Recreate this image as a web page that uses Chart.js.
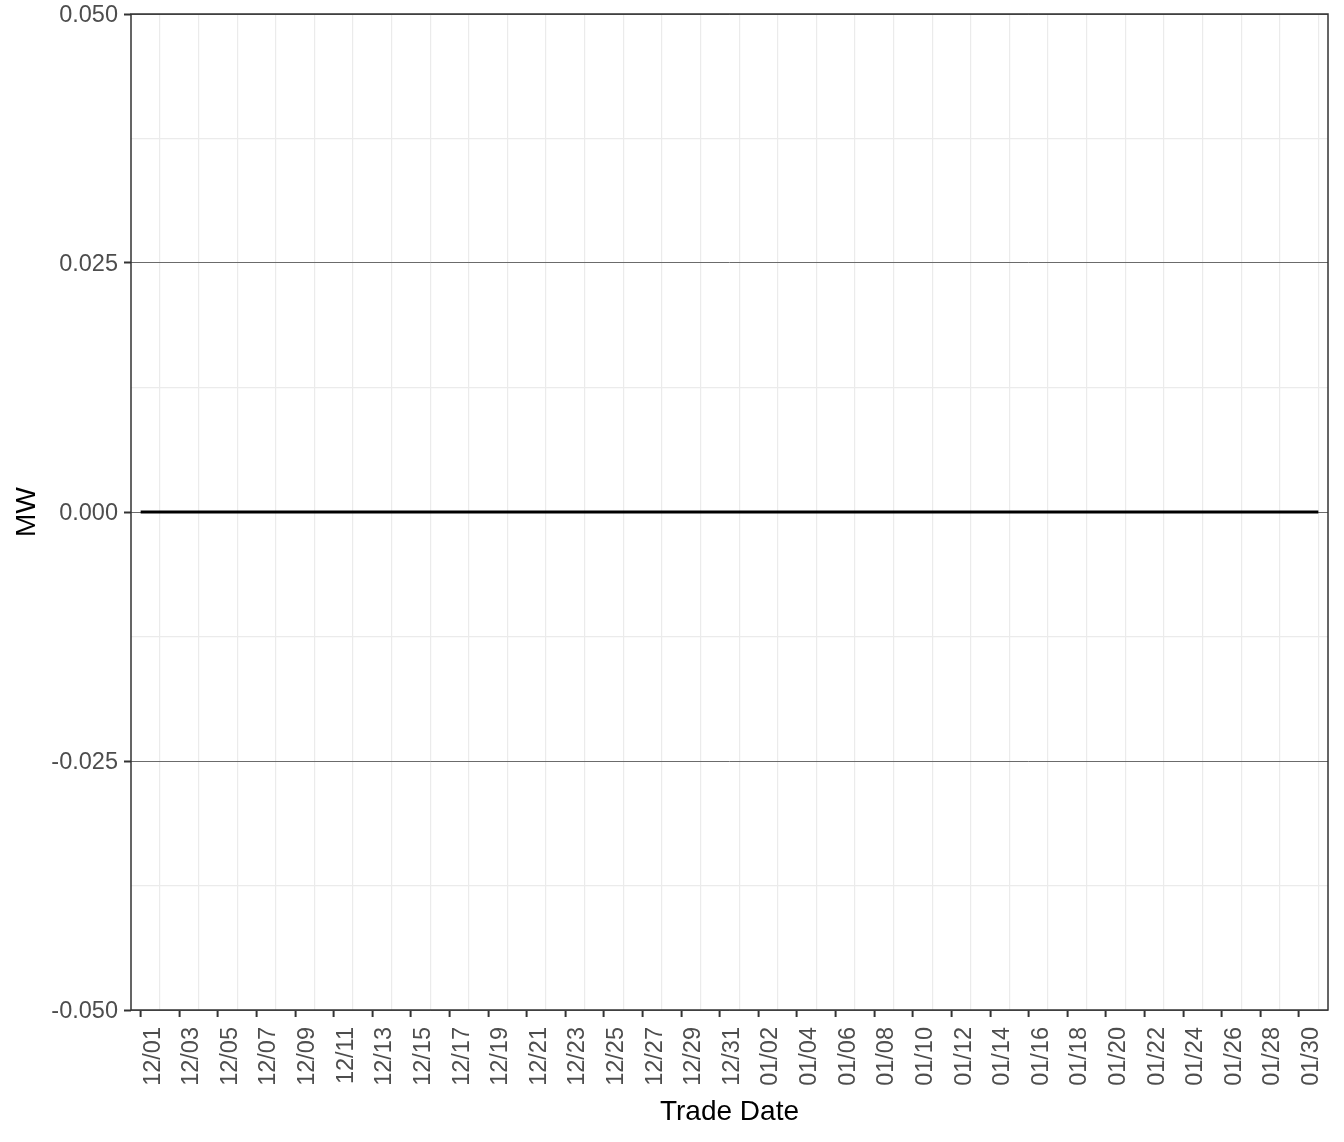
<!DOCTYPE html>
<html>
<head>
<meta charset="utf-8">
<script src="https://cdn.jsdelivr.net/npm/chart.js@4.4.1/dist/chart.umd.min.js"></script>
<style>
  html, body { margin: 0; padding: 0; background: #fff; }
  #wrap { width: 1344px; height: 1142px; }
</style>
</head>
<body>
<div id="wrap"><canvas id="chart"></canvas></div>
<script>
// trade dates (one point per day)
const tradeDates = [
  '12/01', '12/02', '12/03', '12/04', '12/05', '12/06', '12/07', '12/08', '12/09', '12/10',
  '12/11', '12/12', '12/13', '12/14', '12/15', '12/16', '12/17', '12/18', '12/19', '12/20',
  '12/21', '12/22', '12/23', '12/24', '12/25', '12/26', '12/27', '12/28', '12/29', '12/30',
  '12/31', '01/01', '01/02', '01/03', '01/04', '01/05', '01/06', '01/07', '01/08', '01/09',
  '01/10', '01/11', '01/12', '01/13', '01/14', '01/15', '01/16', '01/17', '01/18', '01/19',
  '01/20', '01/21', '01/22', '01/23', '01/24', '01/25', '01/26', '01/27', '01/28', '01/29',
  '01/30', '01/31'
];

// MW per day
const mwValues = [
  0, 0, 0, 0, 0, 0, 0, 0, 0, 0,
  0, 0, 0, 0, 0, 0, 0, 0, 0, 0,
  0, 0, 0, 0, 0, 0, 0, 0, 0, 0,
  0, 0, 0, 0, 0, 0, 0, 0, 0, 0,
  0, 0, 0, 0, 0, 0, 0, 0, 0, 0,
  0, 0, 0, 0, 0, 0, 0, 0, 0, 0,
  0, 0
];

// y axis: labelled ticks and minor grid positions
const yMajorTicks = [-0.05, -0.025, 0, 0.025, 0.05];
const yMinorTicks = [-0.0375, -0.0125, 0.0125, 0.0375];

const GRID_LIGHT = '#ebebeb';
const GRID_DARK = '#6b6b6b';
const AXIS_DARK = '#333333';
const TEXT_GREY = '#4d4d4d';
const FONT = 'Liberation Sans, Arial, sans-serif';

const isMajorY = v => yMajorTicks.some(m => Math.abs(m - v) < 1e-9);

// ggplot-ish panel border on all four sides
const panelBorder = {
  id: 'panelBorder',
  afterDraw(chart) {
    const { ctx, chartArea: a } = chart;
    ctx.save();
    ctx.strokeStyle = AXIS_DARK;
    ctx.lineWidth = 1.5;
    ctx.strokeRect(a.left, a.top, a.right - a.left, a.bottom - a.top);
    ctx.restore();
  }
};

new Chart(document.getElementById('chart'), {
  type: 'line',
  data: {
    datasets: [{
      label: 'MW',
      data: mwValues.map((v, i) => ({ x: i, y: v })),
      borderColor: '#000',
      borderWidth: 3,
      pointRadius: 0,
      tension: 0,
      fill: false
    }]
  },
  options: {
    responsive: true,
    maintainAspectRatio: false,
    animation: false,
    layout: { padding: { top: 14, right: 16, left: 0, bottom: 0 } },
    plugins: {
      legend: { display: false },
      tooltip: { enabled: false }
    },
    scales: {
      x: {
        type: 'linear',
        min: -0.5,
        max: tradeDates.length - 0.5,
        afterBuildTicks: scale => {
          scale.ticks = tradeDates.map((d, i) => ({ value: i }));
        },
        afterFit: scale => {
          scale.height = 132;
          scale.paddingLeft = 0;
          scale.paddingRight = 0;
        },
        border: { display: false },
        grid: {
          drawOnChartArea: true,
          tickLength: 7,
          lineWidth: 1.2,
          tickWidth: 2,
          color: c => (c.tick && c.tick.value % 2 === 1) ? GRID_LIGHT : 'rgba(0,0,0,0)',
          tickColor: c => (c.tick && c.tick.value % 2 === 0) ? AXIS_DARK : 'rgba(0,0,0,0)'
        },
        ticks: {
          autoSkip: false,
          maxRotation: 90,
          minRotation: 90,
          padding: 10,
          labelOffset: 12.5,
          color: TEXT_GREY,
          font: { family: FONT, size: 23.5 },
          callback: v => (v % 2 === 0 ? tradeDates[v] : '')
        },
        title: {
          display: true,
          text: 'Trade Date',
          color: '#000',
          padding: { top: 0, bottom: 13 },
          font: { family: FONT, size: 28 }
        }
      },
      y: {
        min: -0.05,
        max: 0.05,
        afterBuildTicks: scale => {
          scale.ticks = yMajorTicks.concat(yMinorTicks)
            .sort((a, b) => a - b)
            .map(v => ({ value: v }));
        },
        afterFit: scale => {
          scale.width = 131;
          scale.paddingTop = 0;
          scale.paddingBottom = 0;
        },
        border: { display: false },
        grid: {
          tickLength: 7,
          tickWidth: 2,
          lineWidth: c => (c.tick && isMajorY(c.tick.value)) ? 1 : 1.2,
          color: c => (c.tick && isMajorY(c.tick.value)) ? GRID_DARK : GRID_LIGHT,
          tickColor: c => (c.tick && isMajorY(c.tick.value)) ? AXIS_DARK : 'rgba(0,0,0,0)'
        },
        ticks: {
          padding: 6,
          labelOffset: 2,
          color: TEXT_GREY,
          font: { family: FONT, size: 23.5 },
          callback: v => (isMajorY(v) ? v.toFixed(3) : '')
        },
        title: {
          display: true,
          text: 'MW',
          color: '#000',
          padding: { top: 10, bottom: 0 },
          font: { family: FONT, size: 28 }
        }
      }
    }
  },
  plugins: [panelBorder]
});
</script>
</body>
</html>
